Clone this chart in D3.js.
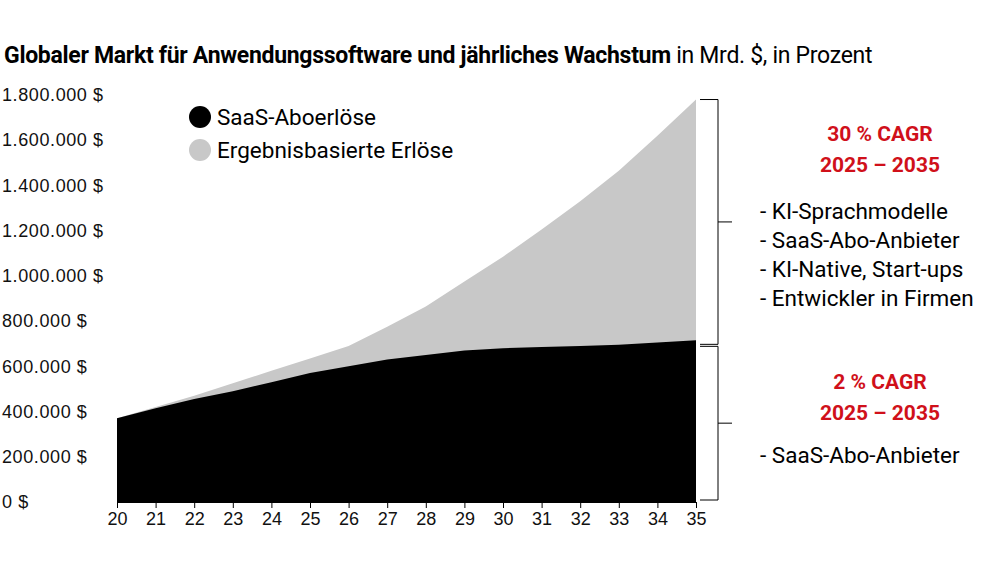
<!DOCTYPE html><html><head><meta charset="utf-8"><script src="https://cdn.jsdelivr.net/npm/d3@7"></script>
<style>body{margin:0;background:#fff}svg{font-family:Roboto,"Open Sans",sans-serif}</style></head><body><svg width="1000" height="563"></svg>
<script>
const years=[20,21,22,23,24,25,26,27,28,29,30,31,32,33,34,35];
const saas=[370000,415000,455000,490000,530000,570000,600000,630000,650000,670000,680000,685000,690000,695000,705000,715000];
const total=[370000,420000,470000,525000,580000,635000,690000,775000,865000,975000,1085000,1205000,1330000,1465000,1620000,1780000];
const yTicks=[0,200000,400000,600000,800000,1000000,1200000,1400000,1600000,1800000];
const svg=d3.select("svg");
const x=d3.scaleLinear().domain([20,35]).range([117,696]);
const y=d3.scaleLinear().domain([0,1800000]).range([502,95]);
const fmt=v=>d3.format(",")(v).replace(/,/g,".")+" $";
svg.append("text").attr("x",4).attr("y",63).attr("font-size",23).attr("fill","#000").attr("letter-spacing",-0.3)
 .html('<tspan font-weight="bold">Globaler Markt für Anwendungssoftware und jährliches Wachstum</tspan><tspan> in Mrd. $, in Prozent</tspan>');
svg.append("path").datum(years.map((d,i)=>[d,total[i]])).attr("fill","#c8c8c8")
 .attr("d",d3.area().x(d=>x(d[0])).y0(y(0)).y1(d=>y(d[1])));
svg.append("path").datum(years.map((d,i)=>[d,saas[i]])).attr("fill","#000")
 .attr("d",d3.area().x(d=>x(d[0])).y0(y(0)).y1(d=>y(d[1])));
const ya=svg.append("g").attr("transform","translate(108,0)").call(d3.axisLeft(y).tickValues(yTicks).tickFormat(fmt).tickSize(0));
ya.select(".domain").remove();
ya.selectAll("text").attr("font-size",18).attr("fill","#111").attr("x",0).attr("text-anchor","start").attr("dx",-108+2).attr("letter-spacing",0.6);
const xa=svg.append("g").attr("transform","translate(0,502)").call(d3.axisBottom(x).tickValues(years).tickSize(6));
xa.select(".domain").attr("stroke","#000");xa.selectAll("text").attr("font-size",18).attr("fill","#111").attr("dy","0.8em");
[["SaaS-Aboerlöse","#000",117],["Ergebnisbasierte Erlöse","#c8c8c8",150]].forEach(l=>{
 svg.append("circle").attr("cx",200).attr("cy",l[2]).attr("r",11).attr("fill",l[1]);
 svg.append("text").attr("x",217).attr("y",l[2]+8).attr("font-size",22.5).text(l[0]);});
function br(t,b){const m=(t+b)/2;svg.append("path").attr("fill","none").attr("stroke","#000").attr("stroke-width",1)
 .attr("d",`M700,${t}H718V${b}H700M718,${m}H732`);}
br(y(1780000),y(715000)+4);br(y(715000)+6,y(0)-2);
const red="#d0101a";
[["30 % CAGR",141],["2025 – 2035",172],["2 % CAGR",389],["2025 – 2035",420]].forEach(t=>
 svg.append("text").attr("x",880).attr("y",t[1]).attr("text-anchor","middle").attr("font-size",21).attr("font-weight","bold").attr("fill",red).text(t[0]));
["- KI-Sprachmodelle","- SaaS-Abo-Anbieter","- KI-Native, Start-ups","- Entwickler in Firmen"].forEach((t,i)=>
 svg.append("text").attr("x",760).attr("y",219+i*29).attr("font-size",22.5).text(t));
svg.append("text").attr("x",760).attr("y",463).attr("font-size",22.5).text("- SaaS-Abo-Anbieter");
</script></body></html>
